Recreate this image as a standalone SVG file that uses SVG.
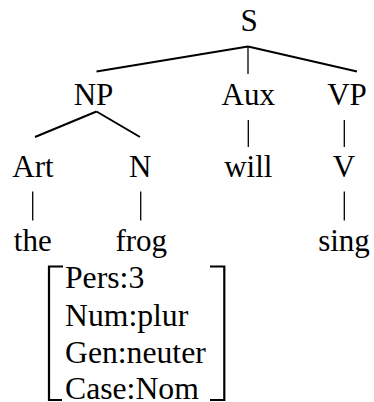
<svg xmlns="http://www.w3.org/2000/svg" width="374" height="402" viewBox="0 0 374 402">
<rect width="374" height="402" fill="#fff"/>
<g id="connectors" stroke="#000" fill="none">
<path stroke-width="2" d="M248 46.5L96.5 71.5M248 46.5L357 71.5"/>
<path stroke-width="1.3" d="M248 46.5V74"/>
<path stroke-width="2" d="M96.5 111.5L35 137M96.5 111.5L140 137"/>
<path stroke-width="1.3" d="M248.3 120V147M344.3 120V147"/>
<path stroke-width="1.3" d="M32.7 191.5V220.5M140.7 191.5V220.5M344.3 191.5V220.5"/>
</g>
<g font-family="Tinos, 'Liberation Serif', serif" font-size="31" text-anchor="middle" fill="#000">
<g id="S"><text x="249" y="31">S</text></g>
<g id="NP"><text x="93.5" y="105">NP</text></g>
<g id="Aux"><text x="248.3" y="105">Aux</text></g>
<g id="VP"><text x="347" y="105">VP</text></g>
<g id="Art"><text x="33" y="177">Art</text></g>
<g id="N"><text x="140.3" y="177">N</text></g>
<g id="will"><text x="248.3" y="177">will</text></g>
<g id="V"><text x="344" y="177">V</text></g>
<g id="the"><text x="32.8" y="251">the</text></g>
<g id="frog"><text x="141.3" y="251">frog</text></g>
<g id="sing"><text x="344" y="251">sing</text></g>
</g>
<g id="features" font-family="Tinos, 'Liberation Serif', serif" font-size="31.7" fill="#000">
<path stroke="#000" stroke-width="2.2" fill="none" d="M63 266.5H49V400H62M210 266.5H224.3V400H210"/>
<text x="65" y="288.3">Pers:3</text>
<text x="65" y="325.5">Num:plur</text>
<text x="65" y="362.7">Gen:neuter</text>
<text x="65" y="398.5">Case:Nom</text>
</g>
</svg>
